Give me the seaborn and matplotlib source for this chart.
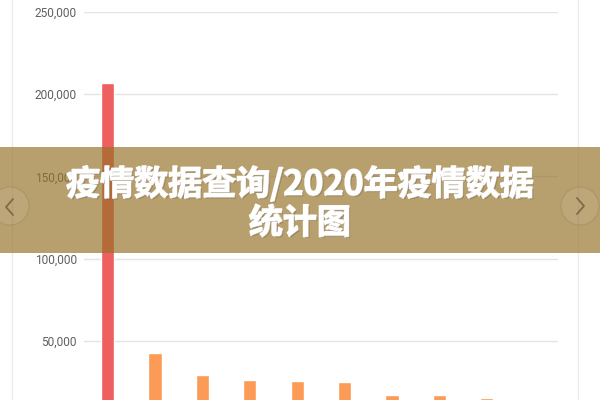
import matplotlib
matplotlib.use("Agg")
import matplotlib.pyplot as plt
import matplotlib.patheffects as pe
from matplotlib.lines import Line2D
from matplotlib.patches import Rectangle, Ellipse
from matplotlib.ticker import StrMethodFormatter
import pandas as pd
import seaborn as sns

# data (x labels sit below the visible area)
countries = ['美国', '印度', '巴西', '俄罗斯', '法国', '西班牙', '英国', '意大利', '阿根廷', '哥伦比亚']
cases = [206500, 42600, 29600, 26100, 25500, 24900, 17100, 17100, 15600, 13000]
bar_colors = ['#ee5f60'] + ['#fb9b55'] * 9
yticks = [50000, 100000, 150000, 200000, 250000]

title_lines = ['疫情数据查询/2020年疫情数据', '统计图']

sns.set_theme(style="white")
plt.rcParams['font.family'] = ['Roboto', 'DejaVu Sans']

df = pd.DataFrame({'country': countries, 'cases': cases})

fig = plt.figure(figsize=(6, 4), dpi=100)
fig.patch.set_facecolor('white')
W, H = 600, 400


def fx(px):
    return px / W


def fy(py):
    return 1 - py / H


# plot area: 0 sits at y=423px (below the frame), 250k at y=12px
ax = fig.add_axes([fx(84), fy(423.3), fx(557.7) - fx(84), (423.3 - 11.7) / H])
sns.barplot(data=df, x='country', y='cases', hue='country', palette=bar_colors,
            width=0.28, legend=False, ax=ax, saturation=1)
ax.set_ylim(0, 250000)
ax.set_yticks(yticks)
ax.yaxis.set_major_formatter(StrMethodFormatter('{x:,.0f}'))
ax.set_xlabel('')
ax.set_ylabel('')
ax.set_xticklabels([])
ax.grid(axis='y', color='#e4e4e4', linewidth=1)
ax.set_axisbelow(True)
for s in ax.spines.values():
    s.set_visible(False)
ax.tick_params(axis='y', length=0, pad=5, labelsize=8.6, labelcolor='#606060')
ax.tick_params(axis='x', length=0)

# card borders
for xpx in (12, 578):
    fig.add_artist(Line2D([fx(xpx), fx(xpx)], [0, 1], color='#ececec', lw=1, zorder=1))

# banner overlay
fig.add_artist(Rectangle((0, fy(253)), 1, 106 / H, transform=fig.transFigure,
                         facecolor='#957127', alpha=0.67, edgecolor='none', zorder=5))

# slider arrows
for cx, pts in ((10, [(13, 199), (6, 207), (13, 215)]),
                (580, [(577, 198), (584, 206), (577, 214)])):
    fig.add_artist(Ellipse((fx(cx), fy(206)), 38 / W, 38 / H, transform=fig.transFigure,
                           facecolor=(1, 1, 1, 0.08), edgecolor=(0.4, 0.35, 0.25, 0.15),
                           lw=1, zorder=6))
    fig.add_artist(Line2D([fx(p[0]) for p in pts], [fy(p[1]) for p in pts],
                          color='#7e6b47', lw=1.3, zorder=7))

shadow = [pe.withStroke(linewidth=1.2, foreground='white'),
          pe.withSimplePatchShadow(offset=(1, -1), shadow_rgbFace='#5a4520', alpha=0.35),
          pe.Normal()]
for text, ypx in zip(title_lines, (184, 223)):
    fig.text(0.5, fy(ypx), text, ha='center', va='center', color='white',
             fontsize=24.5, fontweight='heavy', zorder=8,
             family=['Noto Sans CJK SC', 'DejaVu Sans'], path_effects=shadow)

fig.savefig('out.png', dpi=100)
